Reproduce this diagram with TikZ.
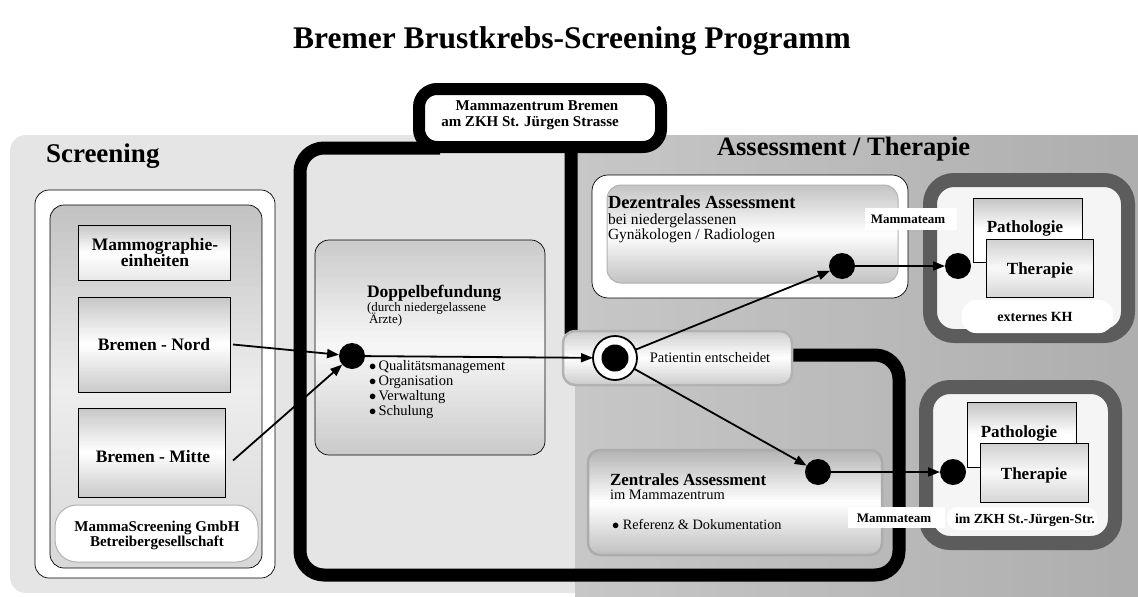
\documentclass[tikz,border=0pt]{standalone}
\usepackage{fontspec}
\setmainfont{Liberation Serif}
\usetikzlibrary{arrows.meta}
\newcommand\fsz[1]{\fontsize{#1}{#1}\selectfont}

% vertical three-stop gradient drawn as thin bands, clipped to a (rounded) rectangle
% #1 x1, #2 y1, #3 x2, #4 y2, #5 corner radius, #6 top, #7 middle, #8 bottom colour
\newcommand\vgrad[8]{%
  \begin{scope}
    \clip[rounded corners=#5] (#1,#2) rectangle (#3,#4);
    \colorlet{gtop}{#6}\colorlet{gmid}{#7}\colorlet{gbot}{#8}%
    \foreach \i in {0,...,39}{%
      \pgfmathsetmacro\ya{#2+(#4-#2)/40*\i}%
      \pgfmathsetmacro\yb{#2+(#4-#2)/40*(\i+1)+0.8}%
      \pgfmathtruncatemacro\pa{max(0,100-(\i+0.5)*5)}%
      \pgfmathtruncatemacro\pb{max(0,(\i+0.5)*5-100)}%
      \ifnum\pa>0 \colorlet{gcur}{gtop!\pa!gmid}\else\colorlet{gcur}{gbot!\pb!gmid}\fi
      \fill[gcur] (#1,\ya) rectangle (#3,\yb);
    }%
  \end{scope}}

\begin{document}
\begin{tikzpicture}[x=1pt,y=-1pt,
  every node/.style={inner sep=0pt,outer sep=0pt},
  txt/.style={anchor=base west},
  ctr/.style={anchor=base},
  blackdot/.style={circle,fill=black,minimum size=26pt},
  flow/.style={line width=1.8pt,-{Triangle[length=12pt,width=9pt]}},
  thinframe/.style={draw=black,line width=0.7pt},
  darkring/.style={draw=gray!72!black,line width=14pt,rounded corners=24,fill=gray!8},
  whitelabel/.style={fill=white,rounded corners=10},
]
\useasboundingbox (0,0) rectangle (1138,597);

% ---------- title ----------
\node[ctr,font=\bfseries\fsz{31.5}] (title) at (572,48) {Bremer Brustkrebs-Screening Programm};

% ---------- background areas ----------
\fill[gray!20,rounded corners=16] (10,135) rectangle (1170,593);
\begin{scope}
  \clip[rounded corners=16] (575,135) rectangle (1170,630);
  \colorlet{bgL}{gray!44}\colorlet{bgR}{gray!64}
  \foreach \i in {0,...,39}{%
    \pgfmathsetmacro\xa{575+14.075*\i}%
    \pgfmathsetmacro\xb{\xa+14.9}%
    \pgfmathtruncatemacro\pa{(\i+0.5)*2.5}%
    \fill[bgR!\pa!bgL] (\xa,135) rectangle (\xb,630);
  }
\end{scope}

\node[txt,font=\bfseries\fsz{27}] (scrhead) at (46,162) {Screening};
\node[txt,font=\bfseries\fsz{26.5}] (asshead) at (717,155) {Assessment / Therapie};

% ---------- Screening column ----------
\draw[thinframe,fill=white,rounded corners=14] (35,190) rectangle (275,578);
\vgrad{50}{205}{262}{568}{14}{gray!48}{gray!14}{gray!30}
\draw[thinframe,rounded corners=14] (50,205) rectangle (262,568);

\vgrad{78}{225.5}{230}{280.5}{0}{gray!45}{white}{gray!18}
\node[thinframe,minimum width=152pt,minimum height=55pt] (mammo) at (154,253) {};
\node[ctr,font=\bfseries\fsz{17.5}] (mammo1) at (155,250) {Mammographie-};
\node[ctr,font=\bfseries\fsz{17.5}] (mammo2) at (155,266) {einheiten};

\vgrad{78}{297}{230}{392}{0}{gray!45}{white}{gray!42}
\node[thinframe,minimum width=152pt,minimum height=95pt] (nord) at (154,344.5) {};
\node[ctr,font=\bfseries\fsz{17.5}] (nordt) at (154,350) {Bremen - Nord};

\vgrad{78}{408}{225}{497}{0}{gray!45}{white}{gray!42}
\node[thinframe,minimum width=147pt,minimum height=89pt] (mitte) at (151.5,452.5) {};
\node[ctr,font=\bfseries\fsz{17.5}] (mittet) at (153,462) {Bremen - Mitte};

\node[draw=gray!60,line width=1pt,fill=white,rounded corners=22,minimum width=203pt,minimum height=57pt] (gmbh) at (156.5,533.5) {};
\node[ctr,font=\bfseries\fsz{15}] (gmbh1) at (157,531) {MammaScreening GmbH};
\node[ctr,font=\bfseries\fsz{15}] (gmbh2) at (157,546) {Betreibergesellschaft};

% ---------- Mammazentrum frame ----------
\draw[line width=13pt,rounded corners=24] (440,148) -- (300,148) -- (300,575) -- (899,575) -- (899,355) -- (571,355) -- (571,150);
\node[draw,line width=12pt,fill=white,rounded corners=18,minimum width=242pt,minimum height=58pt] (tab) at (540,118) {};
\node[ctr,font=\bfseries\fsz{15}] (tab1) at (537,110) {Mammazentrum Bremen};
\node[ctr,font=\bfseries\fsz{15}] (tab2) at (530,126) {am ZKH St. Jürgen Strasse};

% ---------- Doppelbefundung ----------
\vgrad{315}{240}{545}{455}{14}{gray!42}{gray!6}{gray!42}
\draw[thinframe,rounded corners=14] (315,240) rectangle (545,455);
\node[txt,font=\bfseries\fsz{17.5}] (dbf) at (367,297) {Doppelbefundung};
\node[txt,font=\fsz{13}] (dbf2) at (367,311) {(durch niedergelassene};
\node[txt,font=\fsz{13}] (dbf3) at (369,323) {Ärzte)};
\node[txt,font=\fsz{14.5}] (b1) at (369,370) {$\bullet$\,Qualitätsmanagement};
\node[txt,font=\fsz{14.5}] (b2) at (369,385) {$\bullet$\,Organisation};
\node[txt,font=\fsz{14.5}] (b3) at (369,400) {$\bullet$\,Verwaltung};
\node[txt,font=\fsz{14.5}] (b4) at (369,415) {$\bullet$\,Schulung};
\node[blackdot] (dot1) at (352,356) {};

% ---------- Dezentrales Assessment ----------
\draw[thinframe,fill=white,rounded corners=16] (592,175) rectangle (908,298);
\vgrad{607}{185}{898}{283}{14}{gray!48}{white}{gray!48}
\draw[draw=gray!60,line width=1pt,rounded corners=14] (607,185) rectangle (898,283);
\node[txt,font=\bfseries\fsz{18.5}] (dez1) at (608,208) {Dezentrales Assessment};
\node[txt,font=\fsz{15.5}] (dez2) at (608,224) {bei niedergelassenen};
\node[txt,font=\fsz{15.5}] (dez3) at (608,239) {Gynäkologen / Radiologen};
\node[blackdot] (ddot) at (842,266) {};

% ---------- Zentrales Assessment ----------
\vgrad{588}{450}{882}{555}{12}{gray!60}{white}{gray!50}
\draw[draw=gray!65,line width=2.5pt,rounded corners=12] (588,450) rectangle (882,555);
\node[txt,font=\bfseries\fsz{17}] (zen1) at (610,485) {Zentrales Assessment};
\node[txt,font=\fsz{14.5}] (zen2) at (610,499) {im Mammazentrum};
\node[txt,font=\fsz{14.3}] (zen3) at (612,529) {$\bullet$ Referenz \& Dokumentation};
\node[blackdot] (zdot) at (818,472) {};

% ---------- Patientin entscheidet ----------
\vgrad{563}{331}{792}{385}{12}{gray!40}{white}{gray!40}
\draw[draw=gray!60,line width=2.5pt,rounded corners=12] (563,331) rectangle (792,385);
\node[circle,draw,line width=1.8pt,fill=white,minimum size=44pt] (pc) at (615,358) {};
\node[circle,fill=black,minimum size=27pt] (pcdot) at (pc) {};
\node[ctr,font=\fsz{14.5}] (pat) at (710,362) {Patientin entscheidet};

% ---------- Therapie (externes KH) ----------
\draw[darkring] (930,180) rectangle (1128,336);
\vgrad{973}{198}{1082}{262}{0}{gray!48}{white}{white}
\node[thinframe,minimum width=109pt,minimum height=64pt] (path1) at (1027.5,230) {};
\node[ctr,font=\bfseries\fsz{17}] (path1t) at (1025,232) {Pathologie};
\vgrad{986}{239}{1093}{297}{0}{gray!38}{gray!5}{gray!32}
\node[thinframe,minimum width=107pt,minimum height=58pt] (ther1) at (1039.5,268) {};
\node[ctr,font=\bfseries\fsz{17}] (ther1t) at (1040,274) {Therapie};
\node[whitelabel,rounded corners=14,minimum width=151pt,minimum height=33pt] (extkh) at (1037.5,316.5) {};
\node[ctr,font=\bfseries\fsz{14}] (extkht) at (1035,321) {externes KH};
\node[blackdot] (tdot1) at (958,266) {};

% ---------- Therapie (im ZKH) ----------
\draw[darkring] (926,387) rectangle (1115,543);
\vgrad{967}{402}{1076}{467}{0}{gray!48}{white}{white}
\node[thinframe,minimum width=109pt,minimum height=65pt] (path2) at (1021.5,434.5) {};
\node[ctr,font=\bfseries\fsz{17}] (path2t) at (1019,437) {Pathologie};
\vgrad{980}{443}{1088}{502}{0}{gray!38}{gray!5}{gray!32}
\node[thinframe,minimum width=108pt,minimum height=59pt] (ther2) at (1034,472.5) {};
\node[ctr,font=\bfseries\fsz{17}] (ther2t) at (1034,479) {Therapie};
\node[whitelabel,minimum width=150pt,minimum height=23pt] (zkh) at (1022,518.5) {};
\node[ctr,font=\bfseries\fsz{13.8}] (zkht) at (1025,523) {im ZKH St.-Jürgen-Str.};
\node[blackdot] (tdot2) at (953,472) {};

% ---------- Mammateam labels ----------
\node[fill=white,minimum width=92pt,minimum height=22pt] (mt1) at (911,219) {};
\node[ctr,font=\bfseries\fsz{13}] (mt1t) at (908,223) {Mammateam};
\node[fill=white,minimum width=97pt,minimum height=21pt] (mt2) at (896,517.5) {};
\node[ctr,font=\bfseries\fsz{13}] (mt2t) at (894,522) {Mammateam};

% ---------- flow connectors ----------
\draw[flow] ([xshift=3pt]nord.east) -- (dot1);
\draw[flow] ([shift={(8,8)}]mitte.east) -- (dot1);
\draw[flow] (dot1) -- (pc);
\draw[flow] (pc) -- (ddot);
\draw[flow] (pc) -- (zdot);
\draw[flow] (ddot) -- (tdot1);
\draw[flow] (zdot) -- (tdot2);
\end{tikzpicture}
\end{document}
